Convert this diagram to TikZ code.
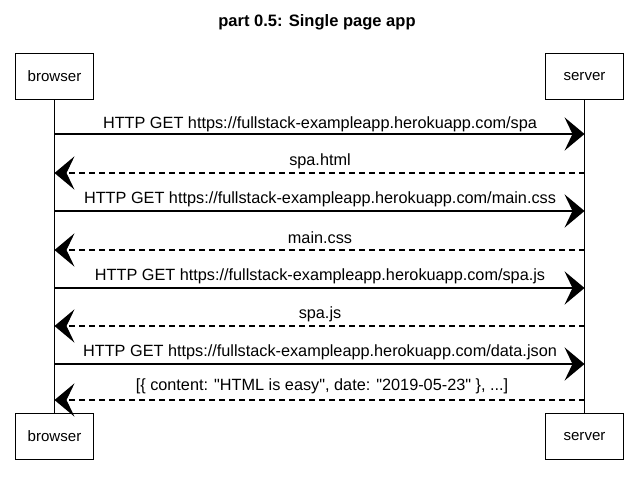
\documentclass[tikz,border=0pt]{standalone}
\usepackage{fontspec}
\setmainfont{Liberation Sans}[Ligatures=TeXOff]
\usetikzlibrary{arrows.meta}
\begin{document}
\begin{tikzpicture}[x=0.75pt,y=-0.75pt,
  actor/.style={draw=black,line width=0.8pt,minimum width=58.5pt,minimum height=34.5pt,inner sep=0pt,font=\fontsize{11.3}{13}\selectfont,fill=white},
  life/.style={draw=black,line width=0.6pt},
  msg/.style={draw=black,line width=0.9pt,-{Stealth[length=15pt,width=25pt,inset=6pt]}},
  reply/.style={draw=black,line width=0.8pt,dashed,dash pattern=on 4.5pt off 3pt,-{Stealth[length=15pt,width=25pt,inset=6pt]}},
  lbl/.style={font=\fontsize{12.2}{14}\selectfont,inner sep=0pt}]
\useasboundingbox (0,0) rectangle (634,483);
\node[font=\bfseries\fontsize{12.4}{14}\selectfont] (title) at (317,22) {part 0.5: Single page app};
\node[actor] (b1) at (54.5,76.5) {browser};
\node[actor] (s1) at (584.5,76.5) {server};
\node[actor] (b2) at (54.5,436.5) {browser};
\node[actor] (s2) at (584.5,436.5) {server};
\draw[life] (b1.south) -- (b2.north);
\draw[life] (s1.south) -- (s2.north);
% message anchor points on lifelines
\foreach \i/\y in {1/134,2/173,3/211,4/250,5/288,6/326,7/364,8/400}{
  \coordinate (bm\i) at (54.5,\y);
  \coordinate (sm\i) at (584.5,\y);
}
\draw[msg] (bm1) -- (sm1);
\node[lbl] (t1) at (320,124) {HTTP GET https://fullstack-exampleapp.herokuapp.com/spa};
\draw[reply] (sm2) -- (bm2);
\node[lbl] (t2) at (320,161) {spa.html};
\draw[msg] (bm3) -- (sm3);
\node[lbl] (t3) at (320,199) {HTTP GET https://fullstack-exampleapp.herokuapp.com/main.css};
\draw[reply] (sm4) -- (bm4);
\node[lbl] (t4) at (320,238) {main.css};
\draw[msg] (bm5) -- (sm5);
\node[lbl] (t5) at (320,276) {HTTP GET https://fullstack-exampleapp.herokuapp.com/spa.js};
\draw[reply] (sm6) -- (bm6);
\node[lbl] (t6) at (320,314) {spa.js};
\draw[msg] (bm7) -- (sm7);
\node[lbl] (t7) at (320,352) {HTTP GET https://fullstack-exampleapp.herokuapp.com/data.json};
\draw[reply] (sm8) -- (bm8);
\node[lbl] (t8) at (322,386) {[\{ content: "HTML is easy", date: "2019-05-23" \}, ...]};
\end{tikzpicture}
\end{document}
